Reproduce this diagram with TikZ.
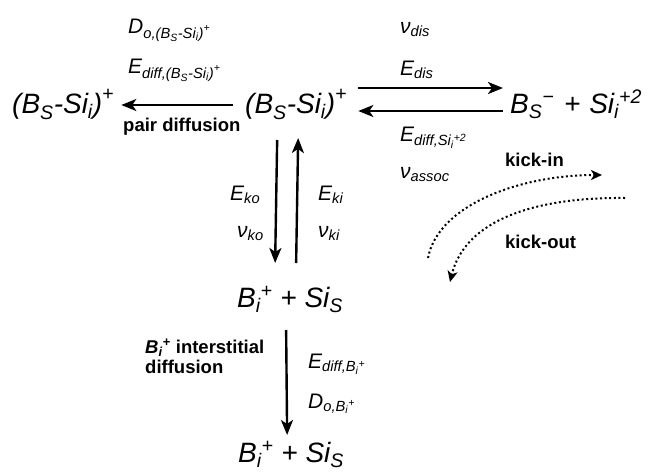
\documentclass[tikz,border=0pt]{standalone}
\usepackage{amsmath}
\usepackage{fontspec}
\setmainfont{Liberation Sans}
\usetikzlibrary{arrows.meta}
\newcommand{\tx}[1]{\text{\itshape #1}}
\tikzset{
  big/.style={inner sep=0pt, anchor=base west, font=\fontsize{28}{34}\selectfont\itshape},
  lab/.style={inner sep=0pt, anchor=base west, font=\fontsize{21}{25}\selectfont\itshape},
  bold/.style={inner sep=0pt, anchor=base west, font=\fontsize{18.5}{22}\selectfont\bfseries},
  arr/.style={line width=2.4pt, -{Stealth[length=15pt,width=12pt,inset=4pt]}},
  dots/.style={line width=2pt, dash pattern=on 2pt off 2.6pt, -{Stealth[length=11pt,width=10pt,inset=3pt]}}
}
\begin{document}
\begin{tikzpicture}[x=1pt,y=-1pt]
\useasboundingbox (0,0) rectangle (650,472);
% species
\node[big] (pair) at (12,113) {$\tx{(B}_{\tx{S}}\tx{-Si}_{\tx{i}}\tx{)}^{\tx{+}}$};
\node[big] (mid) at (245,113) {$\tx{(B}_{\tx{S}}\tx{-Si}_{\tx{i}}\tx{)}^{\tx{+}}$};
\node[big] (prod) at (510,113) {$\tx{B}_{\tx{S}}{}^{\tx{−}}$\hspace{2pt} + \hspace{1pt}$\tx{Si}_{\tx{i}}{}^{\tx{+2}}$};
\node[big] (bi1) at (237,307) {$\tx{B}_{\tx{i}}{}^{\tx{+}}$ + $\tx{Si}_{\tx{S}}$};
\node[big] (bi2) at (238,462) {$\tx{B}_{\tx{i}}{}^{\tx{+}}$ + $\tx{Si}_{\tx{S}}$};
% labels
\node[lab] (dpair) at (128,33) {$\tx{D}_{\tx{o,(B}_{\tx{S}}\tx{-Si}_{\tx{i}}\tx{)}^{\tx{+}}}$};
\node[lab] (epair) at (128,73) {$\tx{E}_{\tx{diff,(B}_{\tx{S}}\tx{-Si}_{\tx{i}}\tx{)}^{\tx{+}}}$};
\node[bold] (pdiff) at (123,131) {pair diffusion};
\node[lab] (vdis) at (400,33) {$\tx{ν}_{\tx{dis}}$};
\node[lab] (edis) at (400,75) {$\tx{E}_{\tx{dis}}$};
\node[lab] (esi) at (400,141) {$\tx{E}_{\tx{diff,Si}_{\tx{i}}{}^{\tx{+2}}}$};
\node[lab] (vassoc) at (400,178) {$\tx{ν}_{\tx{assoc}}$};
\node[lab] (eko) at (230,200) {$\tx{E}_{\tx{ko}}$};
\node[lab] (eki) at (318,200) {$\tx{E}_{\tx{ki}}$};
\node[lab] (vko) at (237,237) {$\tx{ν}_{\tx{ko}}$};
\node[lab] (vki) at (318,237) {$\tx{ν}_{\tx{ki}}$};
\node[bold] (kin) at (505,166) {kick-in};
\node[bold] (kout) at (505,248) {kick-out};
\node[bold, align=left, anchor=base west] (idiff) at (145,373) {\itshape$\tx{B}_{\tx{i}}{}^{\tx{+}}$\upshape\ interstitial\\[-2pt]diffusion};
\node[lab] (ebi) at (308,368) {$\tx{E}_{\tx{diff,B}_{\tx{i}}{}^{\tx{+}}}$};
\node[lab] (dbi) at (308,408) {$\tx{D}_{\tx{o,B}_{\tx{i}}{}^{\tx{+}}}$};
% arrows
\draw[arr] ([shift={(-12,-8)}]mid.base west) -- ([shift={(7,-8)}]pair.base east);
\draw[arr] ([shift={(11,-25)}]mid.base east) -- ([shift={(-7,-25)}]prod.base west);
\draw[arr] ([shift={(-7,-2)}]prod.base west) -- ([shift={(11,-2)}]mid.base east);
\draw[arr] ([shift={(-19,27)}]mid.base) -- ([shift={(-15,-44)}]bi1.base);
\draw[arr] ([shift={(6,-44)}]bi1.base) -- ([shift={(2,25)}]mid.base);
\draw[arr] ([shift={(-4,23)}]bi1.base) -- ([shift={(-4,-27)}]bi2.base);
% kick-in / kick-out
\coordinate (kinS) at (428,258);
\coordinate (kinE) at (602,175);
\coordinate (koutS) at (625,198);
\coordinate (koutE) at (450,282);
\draw[dots] (kinS) .. controls (438,205) and (520,175) .. (kinE);
\draw[dots] (koutS) .. controls (535,197) and (465,220) .. (koutE);
\end{tikzpicture}
\end{document}
